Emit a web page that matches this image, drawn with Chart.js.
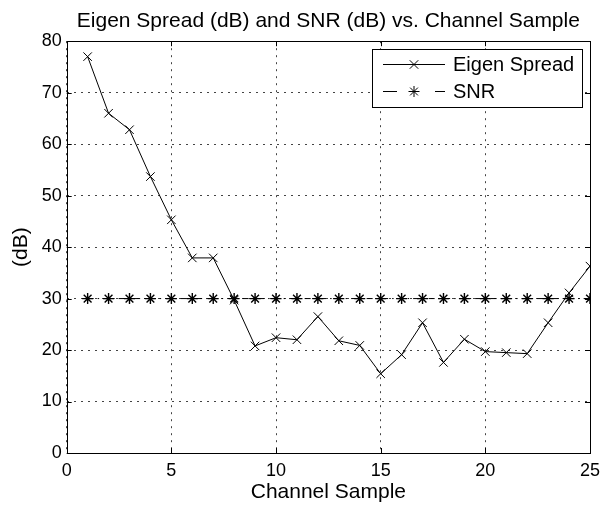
<!DOCTYPE html>
<html>
<head>
<meta charset="utf-8">
<script src="https://cdn.jsdelivr.net/npm/chart.js@4/dist/chart.umd.min.js"></script>
<style>
  html, body { margin: 0; padding: 0; background: #fff; }
  #wrap { width: 602px; height: 505px; }
</style>
</head>
<body>
<div id="wrap"><canvas id="c" width="602" height="505"></canvas></div>
<script>
const samples = [1,2,3,4,5,6,7,8,9,10,11,12,13,14,15,16,17,18,19,20,21,22,23,24,25];
const eigenSpread = [77.0,66.0,62.8,53.7,45.3,37.9,37.9,29.7,20.8,22.4,22.0,26.5,21.8,20.9,15.4,19.1,25.3,17.6,22.1,19.7,19.5,19.3,25.3,31.1,36.3];
const snr = [30,30,30,30,30,30,30,30,30,30,30,30,30,30,30,30,30,30,30,30,30,30,30,30,30];
const xTicks = [0,5,10,15,20,25];
const yTicks = [0,10,20,30,40,50,60,70,80];
const seriesNames = ['Eigen Spread', 'SNR'];
const titleText = 'Eigen Spread (dB) and SNR (dB) vs. Channel Sample';
const xTitle = 'Channel Sample';
const yTitle = '(dB)';

const FONT = 'Liberation Sans, Arial, Helvetica, sans-serif';

const toPts = (ys) => samples.map((x, i) => ({x: x, y: ys[i]}));

const frameAndTicks = {
  id: 'frameAndTicks',
  afterDatasetsDraw(chart) {
    const {ctx, chartArea: a, scales: {x, y}} = chart;
    ctx.save();
    ctx.strokeStyle = '#000';
    ctx.lineWidth = 1;
    ctx.setLineDash([]);
    ctx.strokeRect(Math.round(a.left) + 0.5, Math.round(a.top) + 0.5,
                   Math.round(a.right - a.left), Math.round(a.bottom - a.top));
    const L = 5;
    ctx.beginPath();
    xTicks.forEach(v => {
      const px = Math.round(x.getPixelForValue(v)) + 0.5;
      ctx.moveTo(px, a.bottom); ctx.lineTo(px, a.bottom - L);
      ctx.moveTo(px, a.top); ctx.lineTo(px, a.top + L);
    });
    yTicks.forEach(v => {
      const py = Math.round(y.getPixelForValue(v)) + 0.5;
      ctx.moveTo(a.left, py); ctx.lineTo(a.left + L, py);
      ctx.moveTo(a.right, py); ctx.lineTo(a.right - L, py);
    });
    ctx.stroke();
    ctx.restore();
  },
  afterDraw(chart) {
    const {ctx} = chart;
    const bx = 372, by = 49, bw = 210, bh = 58;
    ctx.save();
    ctx.fillStyle = '#fff';
    ctx.fillRect(bx, by, bw, bh);
    ctx.strokeStyle = '#000';
    ctx.lineWidth = 1;
    ctx.strokeRect(bx + 0.5, by + 0.5, bw, bh);
    const ds = chart.data.datasets;
    const rows = [64.5, 91.5];
    ds.forEach((d, i) => {
      const ry = rows[i];
      ctx.strokeStyle = '#000';
      ctx.lineWidth = 1;
      ctx.setLineDash(i === 0 ? [] : [14, 38]);
      ctx.beginPath();
      ctx.moveTo(383, ry); ctx.lineTo(445, ry);
      ctx.stroke();
      ctx.setLineDash([]);
      Chart.helpers.drawPoint(ctx, {pointStyle: d.pointStyle, radius: d.pointRadius, rotation: 0, borderWidth: d.pointBorderWidth}, 414, ry);
      ctx.fillStyle = '#000';
      ctx.font = '20px ' + FONT;
      ctx.textBaseline = 'middle';
      ctx.textAlign = 'left';
      ctx.fillText(d.label, 453, ry + 1);
    });
    ctx.restore();
  }
};

new Chart(document.getElementById('c'), {
  type: 'line',
  data: {
    datasets: [
      {
        label: seriesNames[0],
        data: toPts(eigenSpread),
        borderColor: '#000',
        backgroundColor: '#000',
        borderWidth: 1,
        pointStyle: 'crossRot',
        pointRadius: 6,
        pointBorderWidth: 1,
        pointBorderColor: '#000',
        tension: 0,
        fill: false
      },
      {
        label: seriesNames[1],
        data: toPts(snr),
        borderColor: '#000',
        backgroundColor: '#000',
        borderWidth: 1,
        borderDash: [6, 4, 1.5, 4],
        pointStyle: 'star',
        pointRadius: 5.5,
        pointBorderWidth: 1.4,
        pointBorderColor: '#000',
        tension: 0,
        fill: false
      }
    ]
  },
  options: {
    responsive: false,
    animation: false,
    devicePixelRatio: 1,
    layout: { padding: { left: 0, right: 12, top: 0, bottom: 0 } },
    plugins: {
      legend: { display: false },
      tooltip: { enabled: false },
      title: {
        display: true,
        fullSize: false,
        text: titleText,
        color: '#000',
        font: { family: FONT, size: 21, weight: 'normal' },
        padding: { top: 9, bottom: 7 }
      }
    },
    scales: {
      x: {
        type: 'linear',
        min: 0, max: 25,
        afterFit(s) { s.height = 52; s.paddingLeft = 0; s.paddingRight = 0; },
        afterBuildTicks(s) { s.ticks = xTicks.map(v => ({value: v})); },
        ticks: { color: '#000', font: { family: FONT, size: 18 }, padding: 7, maxRotation: 0 },
        grid: { color: '#444', lineWidth: 1, drawTicks: false },
        border: { display: false, dash: [2, 5] },
        title: { display: true, text: xTitle, color: '#000', font: { family: FONT, size: 21 }, padding: { top: 0, bottom: 0 } }
      },
      y: {
        type: 'linear',
        min: 0, max: 80,
        afterFit(s) { s.width = 66.7; s.paddingTop = 0; s.paddingBottom = 0; },
        afterBuildTicks(s) { s.ticks = yTicks.map(v => ({value: v})); },
        ticks: { color: '#000', font: { family: FONT, size: 18 }, padding: 5 },
        grid: { color: '#444', lineWidth: 1, drawTicks: false },
        border: { display: false, dash: [2, 5] },
        title: { display: true, text: yTitle, color: '#000', font: { family: FONT, size: 21 }, padding: { top: 9, bottom: 0 } }
      }
    }
  },
  plugins: [frameAndTicks]
});
</script>
</body>
</html>
